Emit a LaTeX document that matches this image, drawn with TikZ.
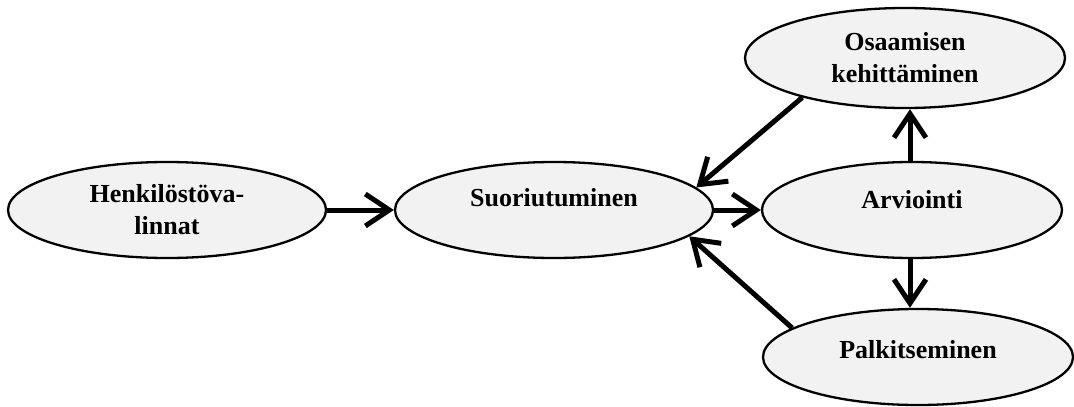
\documentclass[tikz,border=0pt]{standalone}
\usepackage{fontspec}
\setmainfont{Liberation Serif}
\usetikzlibrary{arrows.meta,shapes.geometric}
\definecolor{ellfill}{HTML}{F2F2F2}
\newcommand{\liftup}[2]{\raisebox{#1}[0pt][0pt]{#2}}
\tikzset{
  ell/.style={ellipse,draw=black,line width=2.3pt,fill=ellfill,inner sep=0pt,
    font=\fontsize{26}{32}\selectfont\bfseries,align=center},
  conn/.style={line width=5pt,-{Straight Barb[length=24pt,width=32pt,line width=5pt]}}
}
\begin{document}
\begin{tikzpicture}[x=1pt,y=-1pt]
\useasboundingbox (0,0) rectangle (1074,407);
\node[ell,minimum width=318pt,minimum height=96pt] (h) at (167,210) {Henkilöstöva-\\linnat};
\node[ell,minimum width=318pt,minimum height=96pt] (s) at (554,210) {\liftup{4pt}{Suoriutuminen}};
\node[ell,minimum width=300pt,minimum height=96pt] (a) at (912,210) {\liftup{2pt}{Arviointi}};
\node[ell,minimum width=320pt,minimum height=100pt] (o) at (905,58) {Osaamisen\\kehittäminen};
\node[ell,minimum width=310pt,minimum height=96pt] (p) at (918,357) {\liftup{-1pt}{Palkitseminen}};
\draw[conn] (h.east) -- (s.west);
\draw[conn] (s.east) -- (a.west);
\draw[conn] (o.-159) -- (s.9);
\draw[conn] (p.167) -- (s.-11);
\draw[conn] ([xshift=-2pt]a.north) -- ([xshift=-2pt]a.north|-o.south);
\draw[conn] ([xshift=-2pt]a.south) -- ([xshift=-2pt]a.south|-p.north);
\end{tikzpicture}
\end{document}
